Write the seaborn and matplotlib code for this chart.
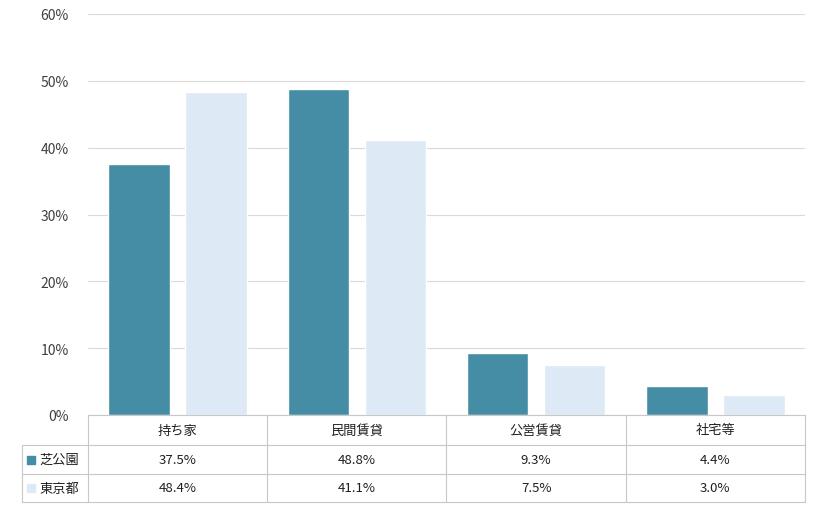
import matplotlib
matplotlib.use("Agg")
import matplotlib.pyplot as plt
import seaborn as sns
import pandas as pd
from matplotlib.patches import Rectangle

categories = ["持ち家", "民間賃貸", "公営賃貸", "社宅等"]
series = ["芝公園", "東京都"]
shiba = [37.5, 48.8, 9.3, 4.4]
tokyo = [48.4, 41.1, 7.5, 3.0]
colors = ["#458DA5", "#DDE9F5"]

df = pd.DataFrame({
    "cat": categories * 2,
    "area": [series[0]] * 4 + [series[1]] * 4,
    "val": shiba + tokyo,
})

sns.set_theme(style="white")
plt.rcParams["font.family"] = ["Noto Sans CJK JP", "DejaVu Sans"]

W, H = 820, 510
fig = plt.figure(figsize=(W / 100, H / 100), dpi=100)
ax = fig.add_axes([88 / W, (H - 416) / H, (805 - 88) / W, (416 - 15) / H])

sns.barplot(data=df, x="cat", y="val", hue="area", palette=colors,
            width=0.86, gap=0.2, ax=ax, legend=False, saturation=1)

ax.set_ylim(0, 60)
ax.set_xlim(-0.5, 3.5)
ax.set_yticks(range(0, 61, 10))
ax.set_yticklabels([f"{v}%" for v in range(0, 61, 10)], color="#404040", fontsize=10)
ax.set_xticks([])
ax.set_xlabel("")
ax.set_ylabel("")
ax.grid(axis="y", color="#D9D9D9", linewidth=0.8)
ax.set_axisbelow(True)
for s in ax.spines.values():
    s.set_visible(False)
ax.tick_params(axis="y", length=0, pad=14)

# data table below the plot
def fx(px):
    return px / W

def fy(py):
    return (H - py) / H

lc = "#C8C8C8"
rows_y = [416, 446, 475, 503]
cat_x = [88 + i * (805 - 88) / 4 for i in range(5)]
fig.add_artist(plt.Line2D([fx(88), fx(805)], [fy(416), fy(416)], color=lc, lw=0.8))
for y in rows_y[1:]:
    fig.add_artist(plt.Line2D([fx(22), fx(805)], [fy(y), fy(y)], color=lc, lw=0.8))
for x in cat_x:
    fig.add_artist(plt.Line2D([fx(x), fx(x)], [fy(416), fy(503)], color=lc, lw=0.8))
fig.add_artist(plt.Line2D([fx(22), fx(22)], [fy(446), fy(503)], color=lc, lw=0.8))

for i, c in enumerate(categories):
    cx = (cat_x[i] + cat_x[i + 1]) / 2
    fig.text(fx(cx), fy(431), c, ha="center", va="center", fontsize=9.5, color="#202020")
    fig.text(fx(cx), fy(460.5), f"{shiba[i]:.1f}%", ha="center", va="center",
             fontsize=9.5, color="#202020")
    fig.text(fx(cx), fy(489), f"{tokyo[i]:.1f}%", ha="center", va="center",
             fontsize=9.5, color="#202020")

for j, (name, col) in enumerate(zip(series, colors)):
    yc = [460.5, 489][j]
    fig.add_artist(Rectangle((fx(27), fy(yc + 4)), 8 / W, 8 / H,
                             transform=fig.transFigure, color=col))
    fig.text(fx(39), fy(yc), name, ha="left", va="center", fontsize=9.5, color="#202020")

fig.savefig("out.png", dpi=100)
